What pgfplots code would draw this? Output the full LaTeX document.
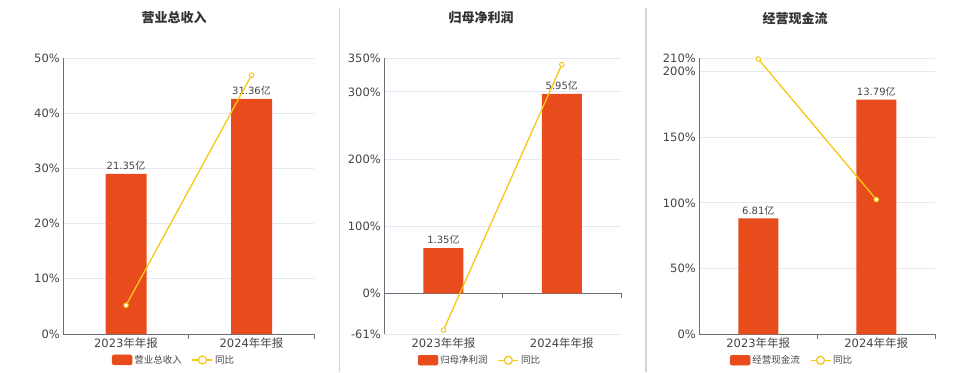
\documentclass[border=0pt]{standalone}
\usepackage{pgfplots}
\pgfplotsset{compat=1.18}
\usepackage{fontspec}
\setmainfont{DejaVu Sans}
\newfontfamily\cjk{Noto Sans CJK SC}
\definecolor{barred}{HTML}{E84C1C}
\definecolor{lineyel}{HTML}{F5C814}
\definecolor{gridc}{HTML}{E6E9F2}
\definecolor{axisg}{HTML}{6E7079}
\definecolor{txt}{HTML}{444444}
\definecolor{titlec}{HTML}{333333}
\definecolor{sepc}{HTML}{D4D4D4}
\pgfplotsset{
 frame/.style={scale only axis, anchor=south west, xmin=-0.5, xmax=1.5,
   axis lines*=left, axis line style={-, draw=axisg, line width=1pt},
   ymajorgrids, grid style={gridc, line width=0.8pt},
   xtick={0,1}, xticklabels={{2023\cjk 年年报},{2024\cjk 年年报}},
   tick style={draw=none},
   ticklabel style={font=\fontsize{11.5}{13}\selectfont, text=txt},
   clip=false},
 hid/.style={scale only axis, anchor=south west, xmin=-0.5, xmax=1.5, hide axis, clip=false},
 bars/.style={ybar, bar width=40pt, fill=barred, draw=none,
   point meta=explicit symbolic,
   nodes near coords={\pgfplotspointmeta{\cjk 亿}},
   every node near coord/.append style={font=\fontsize{10}{12}\selectfont, text=txt}},
 yoy/.style={lineyel, line width=1.3pt, mark=*, mark size=2.3pt,
   mark options={fill=white, draw=lineyel, line width=1pt},
   legend image code/.code={\draw[lineyel, line width=1.3pt] (0pt,0pt) -- (20pt,0pt);
     \draw[lineyel, fill=white, line width=1.3pt] (10pt,0pt) circle (4pt);}},
 leg/.style={legend style={anchor=center, draw=none, fill=none, legend columns=-1,
   font=\cjk\fontsize{9.5}{11}\selectfont, text=txt,
   /tikz/every even column/.append style={column sep=8pt}}},
}
\newcommand{\barimg}{\addlegendimage{legend image code/.code={\fill[barred, rounded corners=2pt] (0pt,-5pt) rectangle (20pt,5pt);}}}
\begin{document}
\begin{tikzpicture}
\path[use as bounding box] (0,0) rectangle (960pt,372pt);
% separators
\draw[sepc, line width=1.2pt] (339.5pt,0pt) -- (339.5pt,364pt);
\draw[sepc, line width=1.2pt] (646pt,0pt) -- (646pt,364pt);
% titles
\node[font=\cjk\bfseries\fontsize{13}{15}\selectfont, text=titlec] at (174pt,354pt) {营业总收入};
\node[font=\cjk\bfseries\fontsize{13}{15}\selectfont, text=titlec] at (481pt,354pt) {归母净利润};
\node[font=\cjk\bfseries\fontsize{13}{15}\selectfont, text=titlec] at (795pt,354pt) {经营现金流};

% ---------- Panel 1 ----------
\begin{axis}[frame, at={(63.3pt,38pt)}, width=251pt, height=276pt,
  ymin=0, ymax=50, ytick={0,10,20,30,40,50},
  yticklabels={0\%,10\%,20\%,30\%,40\%,50\%}]
  \draw[axisg, line width=1pt] (axis cs:0.5,0) -- ++(0pt,-5pt);
  \draw[axisg, line width=1pt] (axis cs:1.5,0) -- ++(0pt,-5pt);
\end{axis}
\begin{axis}[hid, at={(63.3pt,38pt)}, width=251pt, height=276pt, ymin=0, ymax=36.81]
  \addplot[bars, bar width=41pt] coordinates {(0,21.35) [21.35] (1,31.36) [31.36]};
\end{axis}
\begin{axis}[hid, leg, at={(63.3pt,38pt)}, width=251pt, height=276pt, ymin=0, ymax=50,
  legend style={at={(0.441,-0.094)}}]
  \barimg
  \addlegendentry{营业总收入}
  \addplot[yoy] coordinates {(0,5.2) (1,46.9)};
  \addlegendentry{同比}
\end{axis}

% ---------- Panel 2 ----------
\begin{axis}[frame, at={(384.3pt,37.7pt)}, width=236.7pt, height=276pt,
  ymin=-61, ymax=350, ytick={-61,0,100,200,300,350},
  yticklabels={-61\%,0\%,100\%,200\%,300\%,350\%},
  x axis line style={draw=none}]
  \draw[axisg, line width=1pt] (axis cs:-0.5,0) -- (axis cs:1.5,0);
  \draw[axisg, line width=1pt] (axis cs:0.5,0) -- ++(0pt,-5pt);
  \draw[axisg, line width=1pt] (axis cs:1.5,0) -- ++(0pt,-5pt);
\end{axis}
\begin{axis}[hid, at={(384.3pt,37.7pt)}, width=236.7pt, height=276pt, ymin=-1.222, ymax=7.012]
  \addplot[bars] coordinates {(0,1.35) [1.35] (1,5.95) [5.95]};
\end{axis}
\begin{axis}[hid, leg, at={(384.3pt,37.7pt)}, width=236.7pt, height=276pt, ymin=-61, ymax=350,
  legend style={at={(0.404,-0.094)}}]
  \barimg
  \addlegendentry{归母净利润}
  \addplot[yoy] coordinates {(0,-54.7) (1,340.7)};
  \addlegendentry{同比}
\end{axis}

% ---------- Panel 3 ----------
\begin{axis}[frame, at={(699.3pt,37.7pt)}, width=236pt, height=276pt,
  ymin=0, ymax=210, ytick={0,50,100,150,200,210},
  yticklabels={0\%,50\%,100\%,150\%,200\%,210\%}]
  \draw[axisg, line width=1pt] (axis cs:0.5,0) -- ++(0pt,-5pt);
  \draw[axisg, line width=1pt] (axis cs:1.5,0) -- ++(0pt,-5pt);
\end{axis}
\begin{axis}[hid, at={(699.3pt,37.7pt)}, width=236pt, height=276pt, ymin=0, ymax=16.22]
  \addplot[bars] coordinates {(0,6.81) [6.81] (1,13.79) [13.79]};
\end{axis}
\begin{axis}[hid, leg, at={(699.3pt,37.7pt)}, width=236pt, height=276pt, ymin=0, ymax=210,
  legend style={at={(0.393,-0.094)}}]
  \barimg
  \addlegendentry{经营现金流}
  \addplot[yoy] coordinates {(0,209.4) (1,102.5)};
  \addlegendentry{同比}
\end{axis}
\end{tikzpicture}
\end{document}
